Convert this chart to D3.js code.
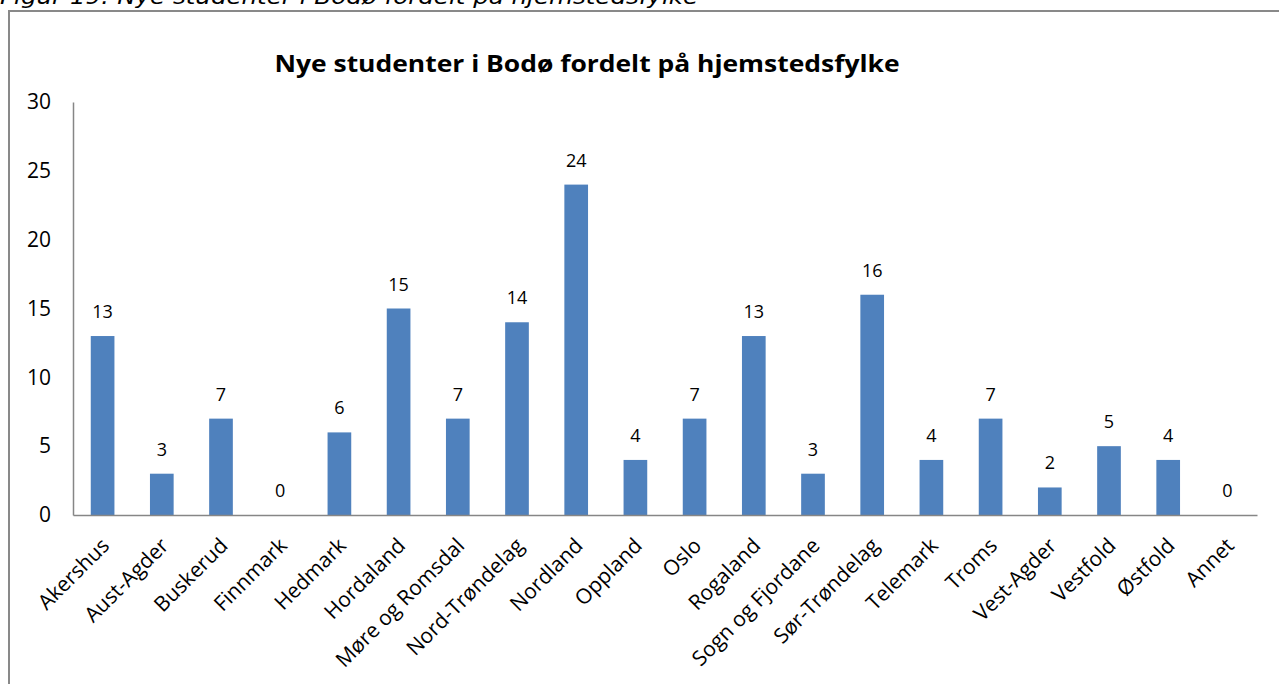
<!DOCTYPE html>
<html>
<head>
<meta charset="utf-8">
<script src="https://cdn.jsdelivr.net/npm/d3@7"></script>
<style>
  body { margin: 0; background: #fff; }
  svg { display: block; }
  text { font-family: "Open Sans", "Liberation Sans", sans-serif; fill: #000; }
</style>
</head>
<body>
<svg width="1279" height="684"></svg>
<script>
var counties = ["Akershus", "Aust-Agder", "Buskerud", "Finnmark", "Hedmark", "Hordaland",
    "Møre og Romsdal", "Nord-Trøndelag", "Nordland", "Oppland", "Oslo", "Rogaland",
    "Sogn og Fjordane", "Sør-Trøndelag", "Telemark", "Troms", "Vest-Agder", "Vestfold",
    "Østfold", "Annet"];
var students = [13, 3, 7, 0, 6, 15, 7, 14, 24, 4, 7, 13, 3, 16, 4, 7, 2, 5, 4, 0];
var yTicks = [0, 5, 10, 15, 20, 25, 30];

var svg = d3.select("svg"),
    margin = {top: 102, right: 22, bottom: 169, left: 73},
    width = +svg.attr("width") - margin.left - margin.right,
    height = +svg.attr("height") - margin.top - margin.bottom;

// caption above the chart frame, cut off at the top like the source
svg.append("text")
    .attr("x", 0)
    .attr("y", 4)
    .attr("textLength", 698)
    .attr("lengthAdjust", "spacingAndGlyphs")
    .style("font-family", "'DejaVu Sans', Verdana, sans-serif")
    .style("font-style", "italic")
    .style("font-size", "21px")
    .text("Figur 19: Nye studenter i Bodø fordelt på hjemstedsfylke");

// chart frame
svg.append("rect")
    .attr("x", 9).attr("y", 11)
    .attr("width", 1290).attr("height", 700)
    .attr("fill", "none")
    .attr("stroke", "#898989")
    .attr("stroke-width", 2);

svg.append("text")
    .attr("x", 587)
    .attr("y", 72)
    .attr("text-anchor", "middle")
    .attr("textLength", 625)
    .attr("lengthAdjust", "spacingAndGlyphs")
    .style("font-size", "24px")
    .style("font-weight", "bold")
    .text("Nye studenter i Bodø fordelt på hjemstedsfylke");

var g = svg.append("g").attr("transform", "translate(" + margin.left + "," + margin.top + ")");

var x = d3.scaleBand()
    .domain(counties)
    .range([0, width])
    .paddingInner(0.6)
    .paddingOuter(0.3);

var y = d3.scaleLinear()
    .domain([0, 30])
    .range([height, 0]);

var yAxis = g.append("g")
    .call(d3.axisLeft(y).tickValues(yTicks).tickSize(0).tickPadding(22));
yAxis.select(".domain").attr("stroke", "#868686").attr("stroke-width", 1.5);
yAxis.selectAll("text")
    .style("font-size", "21px")
    .style("font-family", "'Open Sans', sans-serif");

g.selectAll(".bar")
    .data(students)
  .enter().append("rect")
    .attr("class", "bar")
    .attr("x", function(d, i) { return x(counties[i]); })
    .attr("y", function(d) { return y(d); })
    .attr("width", x.bandwidth())
    .attr("height", function(d) { return height - y(d); })
    .attr("fill", "#4F81BD");

g.selectAll(".value")
    .data(students)
  .enter().append("text")
    .attr("class", "value")
    .attr("x", function(d, i) { return x(counties[i]) + x.bandwidth() / 2; })
    .attr("y", function(d) { return y(d) - 18; })
    .attr("text-anchor", "middle")
    .style("font-size", "18px")
    .text(function(d) { return d; });

var xAxis = g.append("g")
    .attr("transform", "translate(0," + height + ")")
    .call(d3.axisBottom(x).tickSize(0).tickPadding(0));
xAxis.select(".domain").attr("stroke", "#868686").attr("stroke-width", 1.5);
xAxis.selectAll("text")
    .style("font-size", "21px")
    .style("font-family", "'Open Sans', sans-serif")
    .attr("text-anchor", "end")
    .attr("dy", 0)
    .attr("transform", "translate(8,32) rotate(-45)");
</script>
</body>
</html>
